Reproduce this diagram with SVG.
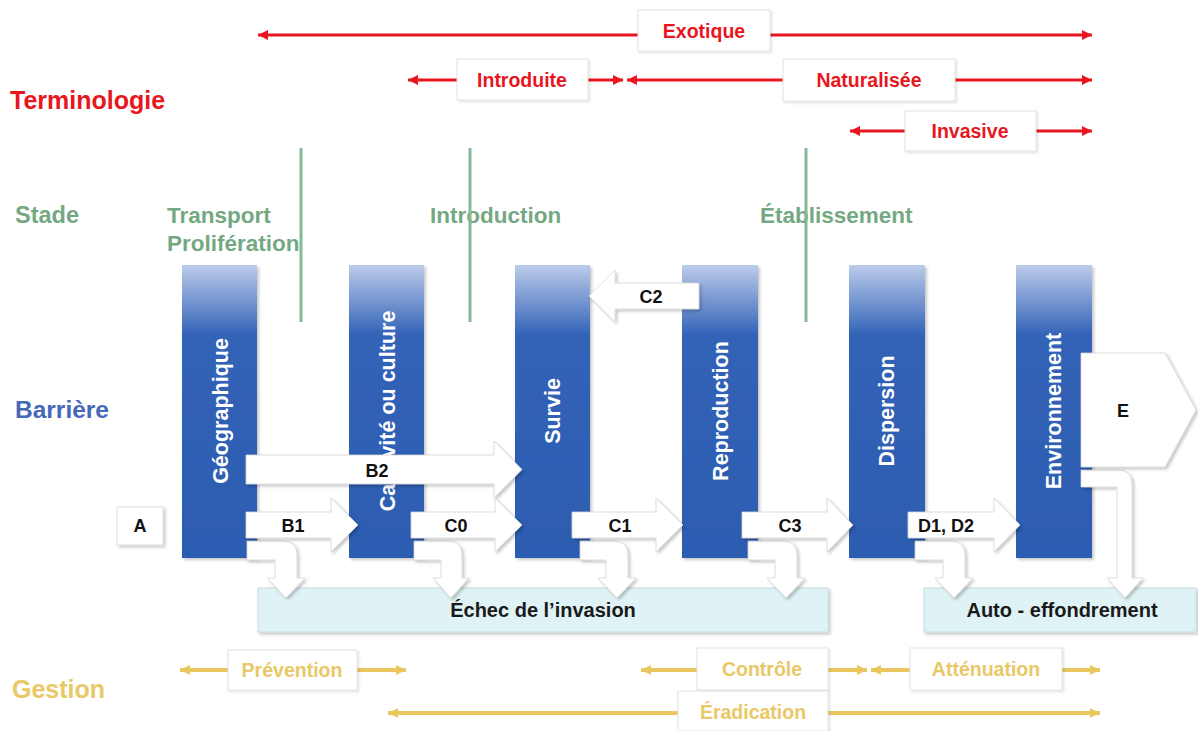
<svg xmlns="http://www.w3.org/2000/svg" width="1198" height="731" viewBox="0 0 1198 731">
<defs>
<linearGradient id="barGrad" x1="0" y1="0" x2="0" y2="1">
<stop offset="0" stop-color="#bccbea"/>
<stop offset="0.24" stop-color="#3263b7"/>
<stop offset="1" stop-color="#2c5cb1"/>
</linearGradient>
<filter id="sh" x="-10%" y="-10%" width="130%" height="130%">
<feDropShadow dx="2" dy="2" stdDeviation="1.5" flood-color="#000" flood-opacity="0.22"/>
</filter>
<filter id="shl" x="-10%" y="-20%" width="130%" height="150%">
<feDropShadow dx="1.5" dy="1.5" stdDeviation="1.2" flood-color="#000" flood-opacity="0.12"/>
</filter>
<marker id="mr" viewBox="0 0 10 10" refX="10" refY="5" markerWidth="11" markerHeight="10" markerUnits="userSpaceOnUse" orient="auto">
<path d="M0,0 L10,5 L0,10 z" fill="#e8161e"/>
</marker>
<marker id="mg" viewBox="0 0 10 10" refX="10" refY="5" markerWidth="10" markerHeight="11" markerUnits="userSpaceOnUse" orient="auto">
<path d="M0,0 L10,5 L0,10 z" fill="#e9c75e"/>
</marker>
</defs>
<style>
text{font-family:"Liberation Sans",Arial,sans-serif;font-weight:bold}
.red{fill:#e8161e}
.grn{fill:#74a882}
.blu{fill:#4568b8}
.gld{fill:#e9c866}
.lbl{font-size:19.5px;text-anchor:middle}
.stage{font-size:22.5px;fill:#74a882}
.rl{stroke:#e8161e;stroke-width:3.2;fill:none;marker-end:url(#mr)}
.gl{stroke:#e9c75e;stroke-width:4;fill:none;marker-end:url(#mg)}
.vl{stroke:#84b896;stroke-width:3}
.box{fill:#fff;stroke:#e2e2e2;stroke-width:1;filter:url(#shl)}
.bar{fill:url(#barGrad);filter:url(#sh)}
.bt{font-size:21.5px;fill:#fff;text-anchor:middle}
.wa{fill:#fff;stroke:#d4d4d4;stroke-width:0.8;filter:url(#sh)}
.at{font-size:18px;fill:#111;text-anchor:middle}
.fb{fill:#dff3f6;stroke:#c4dcdf;stroke-width:1;filter:url(#sh)}
.ft{font-size:20px;fill:#1a1a1a;text-anchor:middle}
</style>
<rect width="1198" height="731" fill="#fff"/>

<g id="categories">
<text class="red" x="10" y="109" font-size="25">Terminologie</text>
<text class="grn" x="15" y="223" font-size="23.5">Stade</text>
<text class="blu" x="15" y="418" font-size="24.5">Barrière</text>
<text class="gld" x="12" y="698" font-size="25">Gestion</text>
</g>

<g id="stages">
<text class="stage" x="167" y="223">Transport</text>
<text class="stage" x="167" y="251">Prolifération</text>
<text class="stage" x="430" y="223">Introduction</text>
<text class="stage" x="760" y="223">Établissement</text>
<line class="vl" x1="301" y1="148" x2="301" y2="322"/>
<line class="vl" x1="470" y1="148" x2="470" y2="322"/>
<line class="vl" x1="806" y1="148" x2="806" y2="322"/>
</g>

<g id="connectors">
<line class="rl" x1="638" y1="35" x2="258" y2="35"/>
<line class="rl" x1="770" y1="35" x2="1092" y2="35"/>
<line class="rl" x1="457" y1="80" x2="408" y2="80"/>
<line class="rl" x1="588" y1="80" x2="623" y2="80"/>
<line class="rl" x1="783" y1="80" x2="627" y2="80"/>
<line class="rl" x1="955" y1="80" x2="1092" y2="80"/>
<line class="rl" x1="905" y1="131" x2="850" y2="131"/>
<line class="rl" x1="1036" y1="131" x2="1092" y2="131"/>
<line class="gl" x1="228" y1="670" x2="180" y2="670"/>
<line class="gl" x1="357" y1="670" x2="406" y2="670"/>
<line class="gl" x1="697" y1="670" x2="641" y2="670"/>
<line class="gl" x1="828" y1="670" x2="867" y2="670"/>
<line class="gl" x1="910" y1="670" x2="871" y2="670"/>
<line class="gl" x1="1062" y1="670" x2="1100" y2="670"/>
<line class="gl" x1="678" y1="713" x2="388" y2="713"/>
<line class="gl" x1="828" y1="713" x2="1100" y2="713"/>
</g>

<g id="term-exotique"><rect class="box" x="638" y="10" width="132" height="41"/><text class="lbl red" x="704" y="38">Exotique</text></g>
<g id="term-introduite"><rect class="box" x="457" y="59" width="131" height="41"/><text class="lbl red" x="522" y="87">Introduite</text></g>
<g id="term-naturalisee"><rect class="box" x="783" y="59" width="172" height="42"/><text class="lbl red" x="869" y="87">Naturalisée</text></g>
<g id="term-invasive"><rect class="box" x="905" y="111" width="131" height="40"/><text class="lbl red" x="970" y="138">Invasive</text></g>

<g id="gest-prevention"><rect class="box" x="228" y="650" width="129" height="40"/><text class="lbl gld" x="292" y="677">Prévention</text></g>
<g id="gest-controle"><rect class="box" x="697" y="648" width="131" height="42"/><text class="lbl gld" x="762" y="676">Contrôle</text></g>
<g id="gest-attenuation"><rect class="box" x="910" y="648" width="152" height="42"/><text class="lbl gld" x="986" y="676">Atténuation</text></g>
<g id="gest-eradication"><rect class="box" x="678" y="691" width="150" height="40"/><text class="lbl gld" x="753" y="719">Éradication</text></g>

<g id="bar-geographique"><rect class="bar" x="182" y="265" width="75" height="293"/><text class="bt" transform="translate(228,411) rotate(-90)">Géographique</text></g>
<g id="bar-captivite"><rect class="bar" x="349" y="265" width="75" height="293"/><text class="bt" transform="translate(395,411) rotate(-90)">Captivité ou culture</text></g>
<g id="bar-survie"><rect class="bar" x="515" y="265" width="75" height="293"/><text class="bt" transform="translate(560,411) rotate(-90)">Survie</text></g>
<g id="bar-reproduction"><rect class="bar" x="682" y="265" width="76" height="293"/><text class="bt" transform="translate(728,411) rotate(-90)">Reproduction</text></g>
<g id="bar-dispersion"><rect class="bar" x="849" y="265" width="76" height="293"/><text class="bt" transform="translate(894,411) rotate(-90)">Dispersion</text></g>
<g id="bar-environnement"><rect class="bar" x="1016" y="265" width="76" height="293"/><text class="bt" transform="translate(1061,411) rotate(-90)">Environnement</text></g>

<g id="node-a"><rect class="wa" x="117" y="507" width="46" height="38"/><text class="at" x="140" y="532">A</text></g>

<g id="echec"><rect class="fb" x="258" y="588" width="570" height="44"/><text class="ft" x="543" y="617">Échec de l’invasion</text></g>
<g id="effondrement"><rect class="fb" x="924" y="588" width="272" height="44"/><text class="ft" x="1062" y="617">Auto - effondrement</text></g>

<g id="fail-arrows">
<path class="wa" d="M247,541 H283 Q297,541 297,555 V578 H305 L286,598 L267,578 H275 V560 H247 Z"/>
<path class="wa" d="M414,541 H448 Q462,541 462,555 V578 H469 L451,598 L433,578 H441 V560 H414 Z"/>
<path class="wa" d="M580,541 H614 Q628,541 628,555 V578 H636 L617,598 L598,578 H606 V560 H580 Z"/>
<path class="wa" d="M748,541 H783 Q797,541 797,555 V578 H805 L786,598 L767,578 H775 V560 H748 Z"/>
<path class="wa" d="M915,541 H951 Q965,541 965,555 V578 H973 L954,598 L935,578 H943 V560 H915 Z"/>
<path class="wa" d="M1081,470 H1118 Q1132,470 1132,484 V578 H1143 L1125,598 L1107,578 H1117 V487 H1081 Z"/>
</g>

<g id="transitions">
<polygon class="wa" points="246,455 494,455 494,441 522,469.5 494,498 494,484 246,484"/>
<text class="at" x="377" y="477">B2</text>
<polygon class="wa" points="246,512 331,512 331,498 358,525 331,552 331,538 246,538"/>
<text class="at" x="293" y="532">B1</text>
<polygon class="wa" points="411,512 495,512 495,498 522,525 495,552 495,538 411,538"/>
<text class="at" x="456" y="532">C0</text>
<polygon class="wa" points="572,512 656,512 656,498 683,525 656,552 656,538 572,538"/>
<text class="at" x="620" y="532">C1</text>
<polygon class="wa" points="742,512 827,512 827,498 853,525 827,552 827,538 742,538"/>
<text class="at" x="790" y="532">C3</text>
<polygon class="wa" points="908,512 994,512 994,498 1020,525 994,552 994,538 908,538"/>
<text class="at" x="946" y="532">D1, D2</text>
<polygon class="wa" points="699,283 615,283 615,270 589,296 615,322 615,309 699,309"/>
<text class="at" x="651" y="303">C2</text>
<polygon class="wa" points="1081,353 1165,353 1196,410 1165,467 1081,467"/>
<text class="at" x="1123" y="417">E</text>
</g>
</svg>
